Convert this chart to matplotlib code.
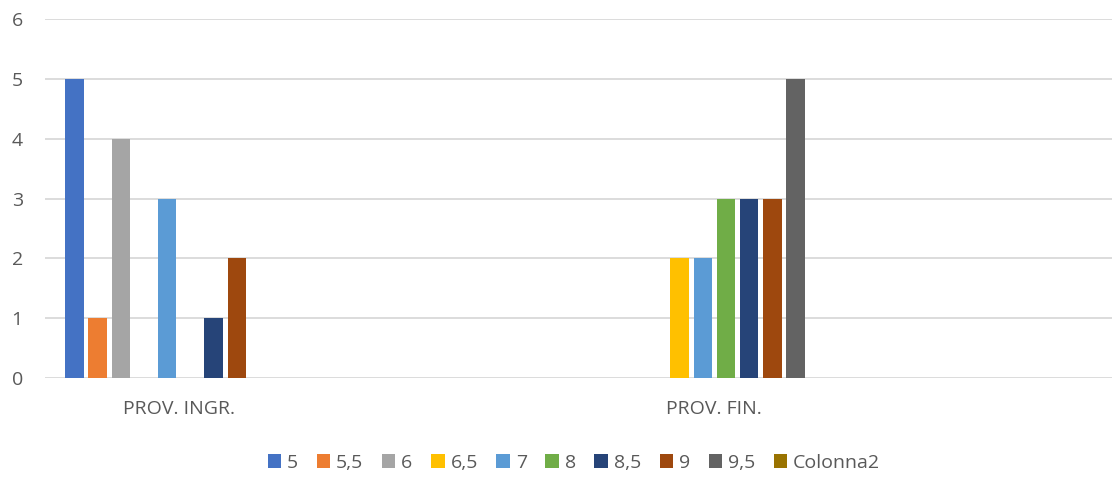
import matplotlib.pyplot as plt
import numpy as np

plt.rcParams['font.family'] = ['Open Sans', 'DejaVu Sans']

# Data
categories = ['PROV. INGR.', '', 'PROV. FIN.', '']
series_names = ['5', '5,5', '6', '6,5', '7', '8', '8,5', '9', '9,5', 'Colonna2']
v_5 = [5, 0, 0, 0]
v_5_5 = [1, 0, 0, 0]
v_6 = [4, 0, 0, 0]
v_6_5 = [0, 0, 2, 0]
v_7 = [3, 0, 2, 0]
v_8 = [0, 0, 3, 0]
v_8_5 = [1, 0, 3, 0]
v_9 = [2, 0, 3, 0]
v_9_5 = [0, 0, 5, 0]
v_colonna2 = [0, 0, 0, 0]
series_values = [v_5, v_5_5, v_6, v_6_5, v_7, v_8, v_8_5, v_9, v_9_5, v_colonna2]

colors = ['#4472C4', '#ED7D31', '#A5A5A5', '#FFC000', '#5B9BD5',
          '#70AD47', '#264478', '#9E480E', '#636363', '#997300']

W, H = 1112, 483
fig = plt.figure(figsize=(W / 100, H / 100), dpi=100)
left, right = 45, 1116
bottom, top = 378, 19
ax = fig.add_axes([left / W, (H - bottom) / H, (right - left) / W, (bottom - top) / H])

x = np.arange(len(categories))
slot = 23.2 / 267.8
bar_w = 18.4 / 267.8
n = len(series_names)
for i, (name, vals, c) in enumerate(zip(series_names, series_values, colors)):
    ax.bar(x + (i - (n - 1) / 2) * slot, vals, width=bar_w, color=c, label=name, zorder=3)

ax.set_xlim(-0.5, len(categories) - 0.5)
ax.set_ylim(0, 6)
ax.set_yticks(range(0, 7))
ax.set_xticks(x)
ax.set_xticklabels(categories)

ax.grid(True, axis='y', color='#D9D9D9', linewidth=1.3, zorder=0)
ax.grid(False, axis='x')
for s in ax.spines.values():
    s.set_visible(False)
ax.tick_params(axis='both', length=0, colors='#595959', labelsize=14)
ax.tick_params(axis='y', pad=16)
ax.tick_params(axis='x', pad=16)

leg = fig.legend(loc='center', bbox_to_anchor=(574 / W, (H - 463) / H), ncol=n,
                 frameon=False, handlelength=0.7, handleheight=0.7,
                 handletextpad=0.3, columnspacing=0.95, fontsize=14)
for t in leg.get_texts():
    t.set_color('#595959')

fig.savefig('out.png', dpi=100)
